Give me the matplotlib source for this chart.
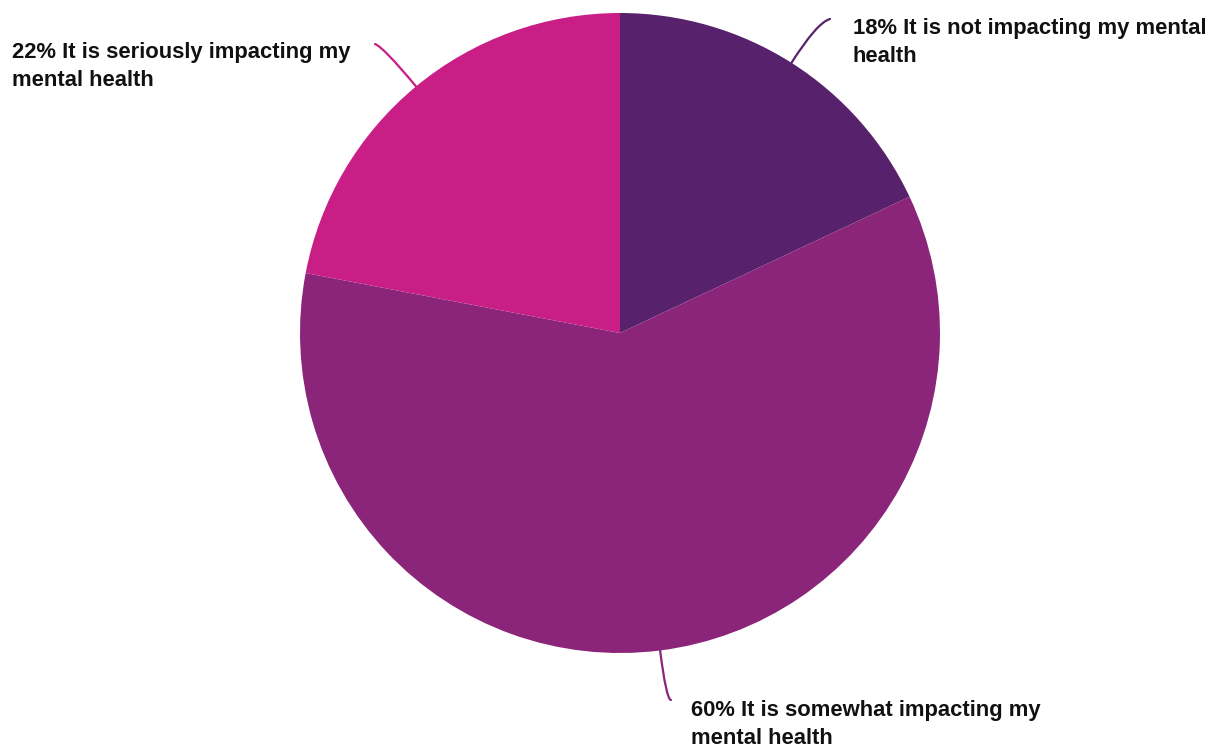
import matplotlib.pyplot as plt
import numpy as np

# survey answers
labels = ['It is not impacting my mental\nhealth',
          'It is somewhat impacting my\nmental health',
          'It is seriously impacting my\nmental health']
shares = [18, 60, 22]
colors = ['#57226b', '#8b2579', '#c81e85']

W, H = 1209, 747
fig = plt.figure(figsize=(W / 100, H / 100), dpi=100)
ax = fig.add_axes([0, 0, 1, 1])

cx, cy, r = 620, H - 333, 320
wedges, _ = ax.pie(shares, colors=colors, startangle=90, counterclock=False,
                   center=(cx, cy), radius=r, frame=True)
ax.set_xlim(0, W)
ax.set_ylim(0, H)
ax.set_aspect('equal')
ax.axis('off')

# label anchor (text top-left) and leader end point, in pixels from top-left
text_pos = [(853, 18), (691, 700), (12, 42)]
line_end = [(830, 19), (671, 700), (375, 44)]
end_ang = [15, 0, 160]

for w, lab, s, c, tp, le, ea in zip(wedges, labels, shares, colors,
                                    text_pos, line_end, end_ang):
    mid = (w.theta1 + w.theta2) / 2
    ang = np.deg2rad(mid)
    sx, sy = cx + r * np.cos(ang), cy + r * np.sin(ang)
    ax.annotate('', xy=(sx, sy), xytext=(le[0], H - le[1]),
                arrowprops=dict(arrowstyle='-', color=c, lw=1.6,
                                shrinkA=0, shrinkB=0,
                                connectionstyle='angle3,angleA=%s,angleB=%s'
                                % (ea, mid)))
    ax.text(tp[0], H - tp[1], '%d%% %s' % (s, lab), ha='left', va='top',
            fontsize=15.8, fontweight='bold', family='Liberation Sans',
            color='#111111', linespacing=1.45)

fig.savefig('out.png', dpi=100)
